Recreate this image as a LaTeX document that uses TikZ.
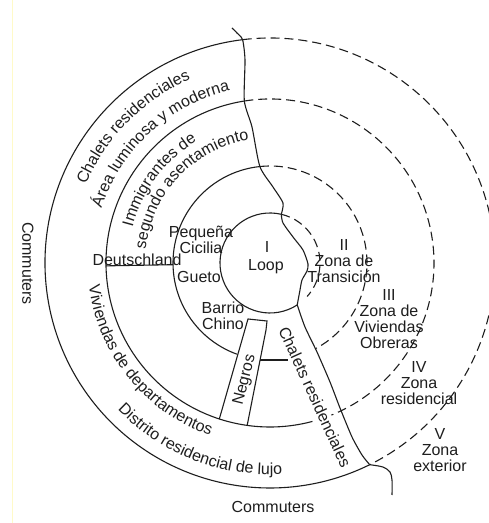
\documentclass[tikz,border=0pt]{standalone}
\usepackage{fontspec}
\setmainfont{Liberation Sans}
\usetikzlibrary{calc,decorations.text}
\definecolor{ink}{RGB}{30,30,30}
\definecolor{edge}{RGB}{255,250,200}
\newcommand{\labelfont}{\fontsize{16}{16}\selectfont}
% radius, boundary angle, end of solid part, end of dashed part
\newcommand{\ringpart}[4]{\draw[zoneline] ($(C)+(#2:#1)$) arc[start angle=#2, end angle=#3, radius=#1];
  \draw[zonedash] ($(C)+(#2:#1)$) arc[start angle=#2, end angle=#4, radius=#1];}
% radius, start angle, end angle, text
\newcommand{\ringtext}[4]{\path[decorate, decoration={text along path, text align=center,
  text={|\labelfont\color{ink}|#4}}] ($(C)+(#2:#1)$) arc[start angle=#2, end angle=#3, radius=#1];}

\begin{document}
\begin{tikzpicture}[x=1pt, y=1pt,
  zoneline/.style={line width=1.1pt, draw=ink},
  zonedash/.style={zoneline, dash pattern=on 9pt off 5pt},
  lbl/.style={font=\labelfont, text=ink, align=center, inner sep=0pt}]
\useasboundingbox (0,0) rectangle (489,523);
\fill[white] (0,0) rectangle (489,523);
\draw[edge, line width=1pt] (12.5,0) -- (12.5,523);
\coordinate (C) at (270,260);

\ringpart{50}{77}{303}{-42}
\ringpart{97}{96}{250}{-62}
\ringpart{164}{99}{285}{-68}
\ringpart{225}{97}{296.3}{-63.7}

\coordinate (b4) at ($(C)+(97:225)$);
\coordinate (b3) at ($(C)+(99:164)$);
\coordinate (b2) at ($(C)+(96:97)$);
\coordinate (b1) at ($(C)+(77:50)$);
\coordinate (s1) at ($(C)+(-57:50)$);
\coordinate (s4) at ($(C)+(-63.7:225)$);
\draw[zoneline] plot[smooth, tension=0.4] coordinates {(232,495) (237,490) (b4) (245,463) (b3) (252,396) (b2) (273,336) (283,320) (b1)};
\draw[zoneline] plot[smooth, tension=0.4] coordinates {(b1) (283,300) (293,286) (303,273) (308,259) (307,252) (302,243) (300,233) (s1)};
\draw[zoneline] plot[smooth, tension=0.4] coordinates {(s1) (305,196) (317,171) (330,141) (340,115) (352,86) (362,68) (s4)};
\draw[zoneline] plot[smooth, tension=0.5] coordinates {(s4) (383,56) (390,51) (392,43) (392,28)};

\coordinate (ntl) at (248,204);
\coordinate (ntr) at (267,202);
\coordinate (ntr2) at (266,193);
\coordinate (nbl) at ($(C)+(252:164)$);
\coordinate (nbr) at ($(C)+(262:164)$);
\draw[zoneline] (nbl) -- (ntl) -- (ntr) -- (ntr2) -- (nbr);
\draw[zoneline] (260,163) -- (288,163);
\draw[zoneline] ($(C)+(181:164)$) -- ($(C)+(181:97)$);

\ringtext{200}{180.2}{90.2}{Chalets residenciales}
\ringtext{177}{177.6}{87.6}{Área luminosa y moderna}
\ringtext{142}{188.2}{98.2}{Immigrantes de}
\ringtext{125}{181.7}{91.7}{segundo asentamiento}
\ringtext{182.5}{174}{264}{Viviendas de departamentos}
\ringtext{211.5}{203.6}{293.6}{Distrito residencial de lujo}

\node[lbl] (num1) at (267,276) {I};
\node[lbl] (loop) at (266,256) {Loop};
\node[lbl] (zone2) at (344,262) {II\\Zona de\\Transición};
\node[lbl] (zone3) at (389,204) {III\\Zona de\\Viviendas\\Obreras};
\node[lbl] (zone4) at (419,139.5) {IV\\Zona\\residencial};
\node[lbl] (zone5) at (440,73) {V\\Zona\\exterior};
\node[lbl] (sicily) at (201,283) {Pequeña\\Cicilia};
\node[lbl] (deutsch) at (137,263) {Deutschland};
\node[lbl] (ghetto) at (199,246) {Gueto};
\node[lbl] (chinatown) at (223,207) {Barrio\\Chino};
\node[lbl, rotate=76] (negros) at (245,143) {Negros};
\node[lbl, rotate=-65.4] (chalets) at (315,126) {Chalets residenciales};
\node[lbl, rotate=-90] (commleft) at (28,259.5) {Commuters};
\node[lbl] (commbottom) at (273,16) {Commuters};
\end{tikzpicture}
\end{document}
